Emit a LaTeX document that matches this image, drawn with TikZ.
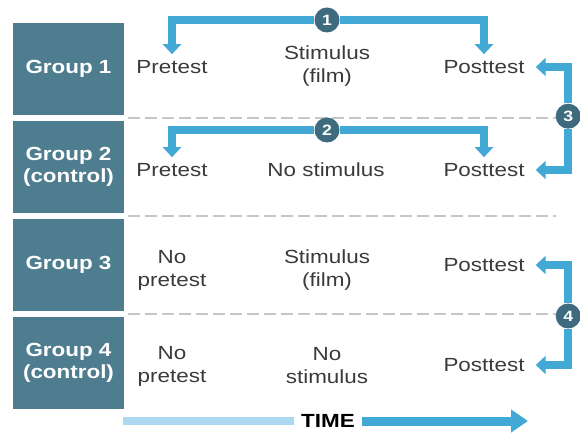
\documentclass[tikz,border=0pt]{standalone}
\usepackage{fontspec}
\setmainfont{Liberation Sans}[FakeStretch=1.18]
\usepackage{tikz}
\usetikzlibrary{arrows.meta,positioning,calc}
\definecolor{groupteal}{RGB}{78,125,143}
\definecolor{numteal}{RGB}{62,108,126}
\definecolor{flowblue}{RGB}{66,168,214}
\definecolor{barblue}{RGB}{172,216,240}
\definecolor{textgray}{RGB}{58,58,58}

\begin{document}
\begin{tikzpicture}[x=1pt, y=-1pt]
    \tikzstyle{group} = [rectangle, fill=groupteal, text=white, font=\fontsize{19}{22}\selectfont\bfseries, align=center, minimum width=111pt, minimum height=92.5pt, inner sep=0pt]
    \tikzstyle{cell} = [text=textgray, font=\fontsize{19}{23}\selectfont, align=center, inner sep=2pt]
    \tikzstyle{num} = [circle, fill=numteal, text=white, font=\fontsize{15}{15}\selectfont\bfseries, minimum size=25pt, inner sep=0pt]
    \tikzstyle{flow} = [line width=8pt, draw=flowblue, -{Triangle[length=10pt,width=18pt]}]
    \tikzstyle{sep} = [draw=gray!45, line width=2pt, dash pattern=on 12pt off 5pt]
    \useasboundingbox (0,0) rectangle (580,435);

    % Groups
    \node[group] (g1) at (68.5,69.25) {Group 1};
    \node[group, below=5pt of g1] (g2) {Group 2\\(control)};
    \node[group, below=5pt of g2] (g3) {Group 3};
    \node[group, below=5pt of g3] (g4) {Group 4\\(control)};

    % Separators
    \coordinate (s1) at ($(g1.south east)!0.5!(g2.north east)$);
    \coordinate (s2) at ($(g2.south east)!0.5!(g3.north east)$);
    \coordinate (s3) at ($(g3.south east)!0.5!(g4.north east)$);
    \node[num] (c3) at ($(s1)+(444,-2)$) {3};
    \node[num] (c4) at ($(s3)+(444,2)$) {4};
    \draw[sep] ([xshift=4pt]s1) -- ++(428,0);
    \draw[sep] ([xshift=4pt]s2) -- ++(428,0);
    \draw[sep] ([xshift=4pt]s3) -- ++(428,0);

    % Row 1
    \node[cell] (pre1) at (172,67) {Pretest};
    \node[cell] (stim1) at (327,66) {Stimulus\\(film)};
    \node[cell] (post1) at (484,67) {Posttest};
    % Row 2
    \node[cell] (pre2) at (172,170) {Pretest};
    \node[cell] (stim2) at (326,170) {No stimulus};
    \node[cell] (post2) at (484,170) {Posttest};
    % Row 3
    \node[cell] (pre3) at (172,270) {No\\pretest};
    \node[cell] (stim3) at (327,270) {Stimulus\\(film)};
    \node[cell] (post3) at (484,265) {Posttest};
    % Row 4
    \node[cell] (pre4) at (172,366) {No\\pretest};
    \node[cell] (stim4) at (327,366) {No\\stimulus};
    \node[cell] (post4) at (484,365) {Posttest};

    % Comparisons
    \node[num] (c1) at (327,20) {1};
    \node[num] (c2) at (327,130) {2};
    \draw[flow, shorten >=4pt] (c1) -| (pre1);
    \draw[flow, shorten >=4pt] (c1) -| (post1);
    \draw[flow, shorten >=4pt] (c2) -| (pre2);
    \draw[flow, shorten >=4pt] (c2) -| (post2);
    \draw[flow, shorten >=9pt] (c3) |- (post1);
    \draw[flow, shorten >=9pt] (c3) |- (post2);
    \draw[flow, shorten >=9pt] (c4) |- (post3);
    \draw[flow, shorten >=9pt] (c4) |- (post4);

    % Time axis
    \node[font=\fontsize{19}{22}\selectfont\bfseries] (time) at (328,421) {TIME};
    \coordinate (tstart) at (123,421);
    \coordinate (tend) at (528,421);
    \draw[barblue, line width=8pt, shorten >=4pt] (tstart) -- (time);
    \draw[flowblue, line width=9pt, shorten <=4pt, -{Triangle[length=17pt,width=22pt]}] (time) -- (tend);
\end{tikzpicture}
\end{document}
